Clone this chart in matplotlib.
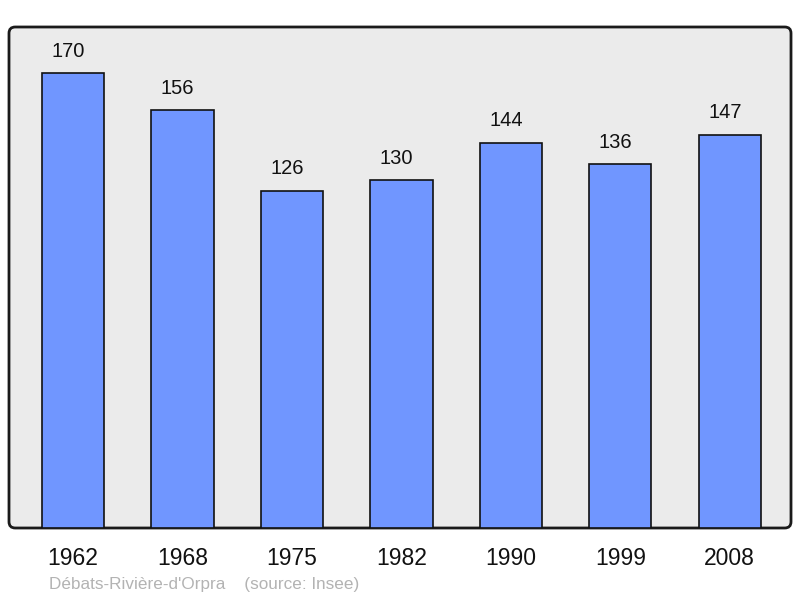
import matplotlib
matplotlib.use("Agg")
import matplotlib.pyplot as plt
from matplotlib.patches import FancyBboxPatch

years = ["1962", "1968", "1975", "1982", "1990", "1999", "2008"]
population = [170, 156, 126, 130, 144, 136, 147]
footnote = "Débats-Rivière-d'Orpra    (source: Insee)"

plt.rcParams['font.family'] = ['Liberation Sans', 'DejaVu Sans']

fig = plt.figure(figsize=(8, 5.98), dpi=100)
W, H = 800, 598
ax = fig.add_axes([9 / W, 1 - 528 / H, 782 / W, 501 / H])
ax.set_facecolor('none')
for s in ax.spines.values():
    s.set_visible(False)

frame = FancyBboxPatch((0, 0), 1, 1, boxstyle="round,pad=0,rounding_size=0.008",
                       transform=ax.transAxes, facecolor='#ebebeb', edgecolor='#1a1a1a',
                       linewidth=2, zorder=0, clip_on=False, mutation_aspect=782 / 501)
ax.add_patch(frame)

x = list(range(len(years)))
bars = ax.bar(x, population, width=0.57, color='#7096ff', edgecolor='#111111',
              linewidth=1.2, zorder=2)
for xi, v in zip(x, population):
    ax.annotate(str(v), (xi, v), xytext=(-3.5, 9), textcoords='offset points',
                ha='center', va='bottom', fontsize=14.5, color='#111111')

ax.set_xlim(-0.585, 6.56)
ax.set_ylim(0, 187.2)
ax.set_yticks([])
ax.set_xticks(x)
ax.set_xticklabels(years, fontsize=16.5, color='#111111')
ax.tick_params(axis='x', length=0, pad=13.5)

fig.text(49 / W, 1 - 584 / H, footnote, fontsize=12.3, color='#b3b3b3',
         ha='left', va='center')

fig.savefig("out.png", dpi=100)
